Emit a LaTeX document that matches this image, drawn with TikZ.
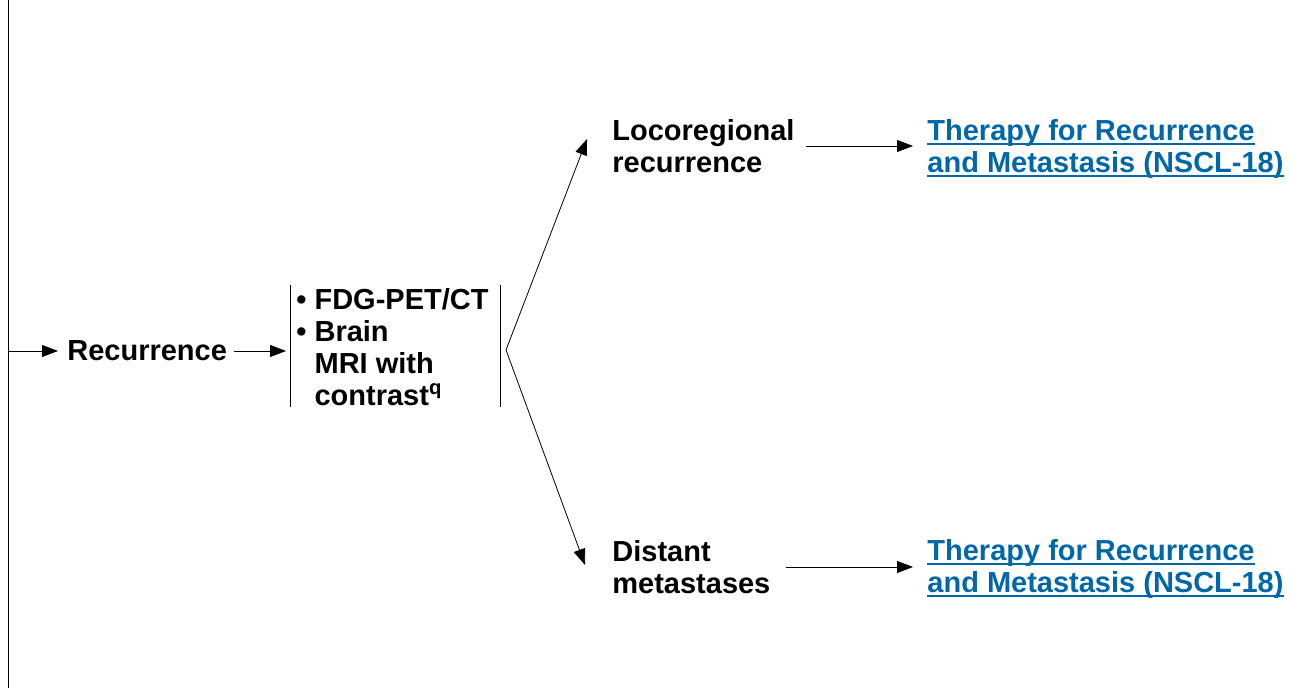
\documentclass[tikz,border=0pt]{standalone}
\usepackage{fontspec}
\setmainfont{Liberation Sans}
\usepackage{xcolor}
\definecolor{Link Blue}{HTML}{0067A8}
\colorlet{cLink}{Link Blue}
\usetikzlibrary{calc, positioning, arrows.meta}
\tikzset{
	line width = 1.5pt,
	>={Triangle[length=8pt, width=6pt]},
	font = \fontsize{14.5}{16}\selectfont\bfseries,
	plain/.style={
		inner sep=0pt,
		anchor=west,
		align=left
	},
	link/.style={
		plain,
		text=cLink
	},
	edge/.style={
		->
	}
}
\newcommand{\linkline}[1]{\setbox0\hbox{#1}\rlap{\copy0}\rule[-2.4pt]{\wd0}{1pt}}

\begin{document}
\begin{tikzpicture}[x=0.5pt, y=-0.5pt]
		\useasboundingbox (0,0) rectangle (1289,688);

		\coordinate (spine top) at (8,0);
		\coordinate (spine bot) at (8,688);
		\draw (spine top) -- (spine bot);

		\node[plain] (rec) at (67,351) {Recurrence};
		\node[plain] (tests) at (296,347) {\textbullet\ FDG-PET/CT\\
			\textbullet\ Brain\\
			\hphantom{\textbullet\ }MRI with\\
			\hphantom{\textbullet\ }contrast\textsuperscript{q}};

		\coordinate (bar l top) at (290,285);
		\coordinate (bar l bot) at (290,407);
		\coordinate (bar r top) at (500,285);
		\coordinate (bar r bot) at (500,407);
		\draw (bar l top) -- (bar l bot);
		\draw (bar r top) -- (bar r bot);

		\draw[edge, shorten >=4.5pt] (spine top |- rec.west) to (rec.west);
		\draw[edge, shorten <=3.5pt, shorten >=2pt] (rec.east) to (rec.east -| bar l top);

		\node[plain] (loco) at (612,146) {Locoregional\\ recurrence};
		\node[plain] (dist) at (612,567) {Distant\\ metastases};

		\node[link] (therapy loco) at (927,149) {\linkline{Therapy for Recurrence}\\ \linkline{and Metastasis (NSCL-18)}};
		\node[link] (therapy dist) at (927,569) {\linkline{Therapy for Recurrence}\\ \linkline{and Metastasis (NSCL-18)}};

		\coordinate (split) at (506,350);
		\coordinate (loco tip) at (587,139);
		\coordinate (dist tip) at (585,565);
		\draw[edge] (split) to (loco tip);
		\draw[edge] (split) to (dist tip);

		\draw[edge, shorten >=7pt] ([xshift=5.5pt]loco.east) to (loco.east -| therapy loco.west);
		\draw[edge, shorten >=7pt] ([xshift=7.5pt]dist.east) to (dist.east -| therapy dist.west);
	\end{tikzpicture}
\end{document}
